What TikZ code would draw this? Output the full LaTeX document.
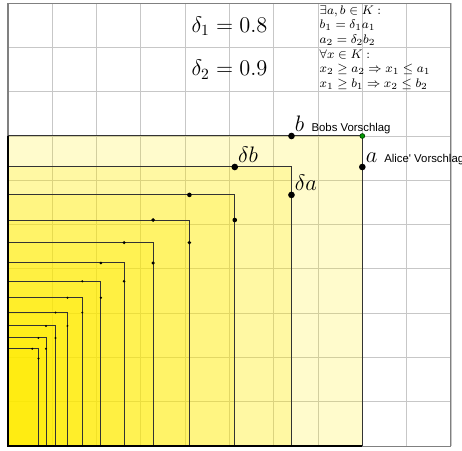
\documentclass[tikz,border=0pt]{standalone}
\usepackage{amsmath}
\usepackage{fontspec}
\newfontfamily\propfont{Liberation Sans}
\usetikzlibrary{positioning, calc}
\definecolor{offeryellow}{RGB}{255,235,0}
\definecolor{dealgreen}{RGB}{0,150,0}
\tikzstyle{gridline} = [draw=black!22, line width=0.5pt]
\tikzstyle{frame} = [draw=black!50, line width=0.7pt]
\tikzstyle{area} = [fill=offeryellow, fill opacity=0.2]
\tikzstyle{edge} = [draw=black!80, line width=0.65pt]
\tikzstyle{axis} = [draw=black, line width=1.3pt]
\tikzstyle{tag} = [anchor=base west, inner sep=0pt, font=\Large, xshift=2pt, yshift=3pt]
\tikzstyle{rules} = [anchor=west, inner sep=0pt, align=left, font=\fontsize{8.4}{9.4}\selectfont]

\begin{document}
\begin{tikzpicture}[x=1cm, y=1cm]
        \useasboundingbox (-0.18,-0.09) rectangle (10.25,10.07);
        \draw [gridline] (0,0) grid (10,10);
        \draw [frame] (0,0) rectangle (10,10);

        % nested offers
        \foreach \k in {1,...,12} {
            \pgfmathsetmacro\w{8*0.8^(\k-1)}
            \pgfmathsetmacro\h{7*0.9^(\k-1)}
            \fill [area] (0,0) rectangle (\w,\h);
        }
        \foreach \k in {1,...,12} {
            \pgfmathsetmacro\w{8*0.8^(\k-1)}
            \pgfmathsetmacro\h{7*0.9^(\k-1)}
            \pgfmathsetmacro\r{\k<3 ? 0.075 : max(0.025, 0.052*0.85^(\k-3))}
            \draw [edge] (0,\h) -- (\w,\h) -- (\w,0);
            \fill (0.8*\w,\h) circle (\r);
            \fill (\w,0.9*\h) circle (\r);
        }
        \draw [axis] (0,7) -- (0,0) -- (8,0);

        \coordinate (b) at (6.4,7);
        \coordinate (a) at (8,6.3);
        \coordinate (db) at (5.12,6.3);
        \coordinate (da) at (6.4,5.67);
        \coordinate (deal) at (8,7);
        \filldraw [fill=dealgreen, draw=black!60!dealgreen, line width=0.4pt] (deal) circle (0.055);

        \node [tag] (blabel) at (b) {$b$ {\propfont\fontsize{7.3}{8}\selectfont Bobs Vorschlag}};
        \node [tag] (alabel) at (a) {$a$\hspace{4.5pt}{\propfont\fontsize{7.3}{8}\selectfont Alice\textquotesingle{} Vorschlag}};
        \node [tag] (dblabel) at (db) {$\delta b$};
        \node [tag] (dalabel) at (da) {$\delta a$};

        \node [font=\Large] (delta1) at (5,9.48) {$\delta_1 = 0.8$};
        \node [font=\Large] (delta2) at (5,8.5) {$\delta_2 = 0.9$};
        \node [rules] (exists) at (7.03,9.5) {$\exists a, b \in K:$\\ $b_1 = \delta_1 a_1$\\ $a_2 = \delta_2 b_2$};
        \node [rules] (forall) at (7.03,8.5) {$\forall x \in K:$\\ $x_2 \geq a_2 \Rightarrow x_1 \leq a_1$\\ $x_1 \geq b_1 \Rightarrow x_2 \leq b_2$};
    \end{tikzpicture}
\end{document}
